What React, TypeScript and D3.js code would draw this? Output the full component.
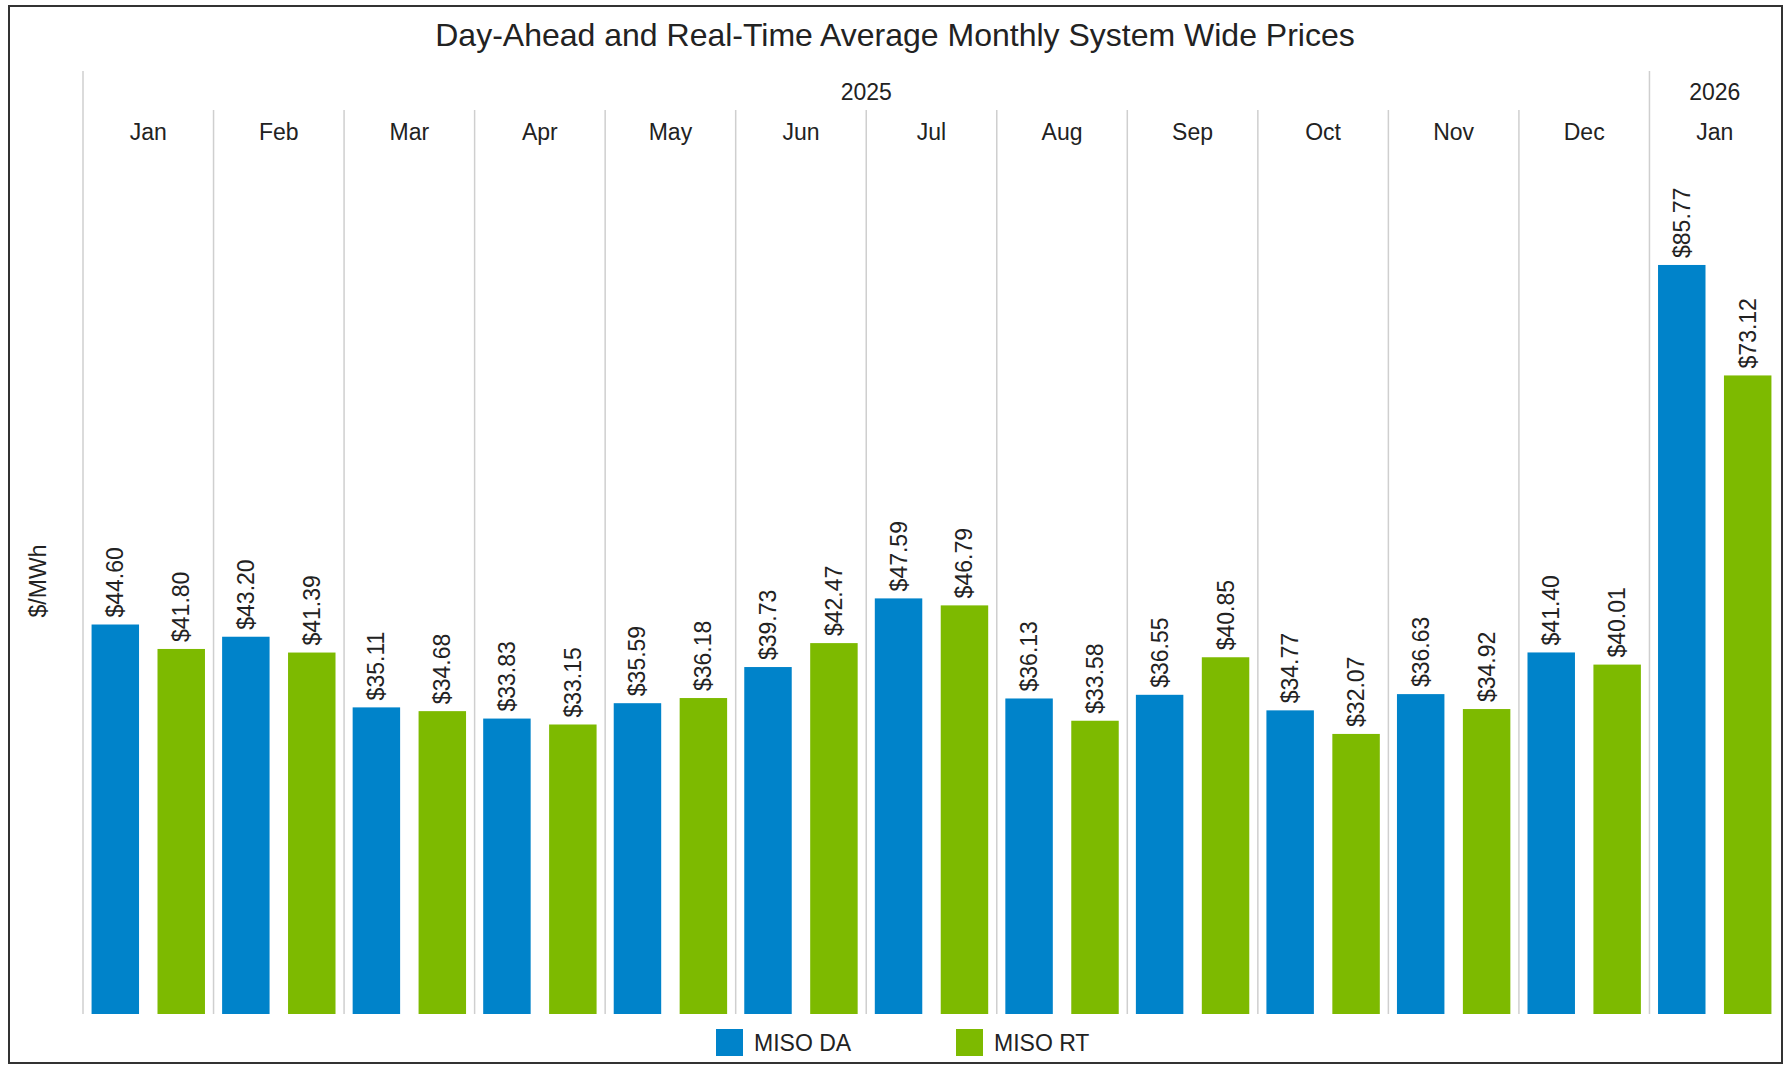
import * as d3 from 'd3';

const months = ['Jan', 'Feb', 'Mar', 'Apr', 'May', 'Jun', 'Jul', 'Aug', 'Sep', 'Oct', 'Nov', 'Dec', 'Jan'];
const years = ['2025', '2025', '2025', '2025', '2025', '2025', '2025', '2025', '2025', '2025', '2025', '2025', '2026'];
const seriesNames = ['MISO DA', 'MISO RT'];
const daValues = [44.6, 43.2, 35.11, 33.83, 35.59, 39.73, 47.59, 36.13, 36.55, 34.77, 36.63, 41.4, 85.77];
const rtValues = [41.8, 41.39, 34.68, 33.15, 36.18, 42.47, 46.79, 33.58, 40.85, 32.07, 34.92, 40.01, 73.12];
const colors = ['#0083ca', '#7dba00'];

const W = 1786;
const H = 1066;
const left = 83;
const right = 1780;
const baseline = 1014;
const font = 'Liberation Sans, Arial, sans-serif';

const App = () => {
	const keys = months.map((m, i) => `${years[i]}-${m}-${i}`);
	const x = d3.scaleBand().domain(keys).range([left, right]).paddingInner(0).paddingOuter(0);
	const inner = d3.scaleBand().domain(seriesNames).range([0, x.bandwidth()]).paddingInner(0.28).paddingOuter(0.13);
	const y = d3.scaleLinear().domain([0, 100]).range([baseline, baseline - 873.3]);

	const series = [daValues, rtValues];

	// year groups
	const yearGroups = d3.groups(keys.map((k, i) => ({ k, year: years[i] })), d => d.year);

	const fmt = d3.format('.2f');

	return (
		<svg width={W} height={H} style={{ position: 'absolute', left: 0, top: 0, background: '#fff' }} fontFamily={font}>
			<rect x={9} y={6} width={1773} height={1057} fill="#fff" stroke="#333" strokeWidth={2} />
			<text x={895} y={35} textAnchor="middle" dominantBaseline="central" fontSize={32} fill="#222">
				Day-Ahead and Real-Time Average Monthly System Wide Prices
			</text>

			{/* month separators */}
			{keys.map((k, i) =>
				i === 0 ? null : (
					<line
						key={'m' + k}
						x1={x(k)}
						x2={x(k)}
						y1={years[i] !== years[i - 1] ? 71 : 110}
						y2={baseline}
						stroke="#cfcfcf"
						strokeWidth={1.5}
					/>
				),
			)}
			<line x1={left} x2={left} y1={71} y2={baseline} stroke="#cfcfcf" strokeWidth={1.5} />

			{yearGroups.map(([year, items]) => {
				const x0 = x(items[0].k) as number;
				const x1 = (x(items[items.length - 1].k) as number) + x.bandwidth();
				return (
					<text key={year} x={(x0 + x1) / 2} y={92} textAnchor="middle" dominantBaseline="central" fontSize={23} fill="#222">
						{year}
					</text>
				);
			})}

			{keys.map((k, i) => (
				<text key={'l' + k} x={(x(k) as number) + x.bandwidth() / 2} y={132} textAnchor="middle" dominantBaseline="central" fontSize={23} fill="#222">
					{months[i]}
				</text>
			))}

			{series.map((vals, s) =>
				vals.map((v, i) => {
					const bx = (x(keys[i]) as number) + (inner(seriesNames[s]) as number);
					const cx = bx + inner.bandwidth() / 2;
					const top = y(v);
					return (
						<g key={`b${s}-${i}`}>
							<rect x={bx} y={top} width={inner.bandwidth()} height={baseline - top} fill={colors[s]} />
							<text
								transform={`translate(${cx},${top - 7}) rotate(-90)`}
								dominantBaseline="central"
								fontSize={23}
								fill="#222"
							>
								{'$' + fmt(v)}
							</text>
						</g>
					);
				}),
			)}

			<text transform={`translate(38,581) rotate(-90)`} textAnchor="middle" dominantBaseline="central" fontSize={23} fill="#222">
				$/MWh
			</text>

			{seriesNames.map((name, s) => {
				const lx = s === 0 ? 716 : 956;
				return (
					<g key={name}>
						<rect x={lx} y={1029} width={27} height={27} fill={colors[s]} />
						<text x={lx + 38} y={1043} dominantBaseline="central" fontSize={23} fill="#222">
							{name}
						</text>
					</g>
				);
			})}
		</svg>
	);
};

export default App;
